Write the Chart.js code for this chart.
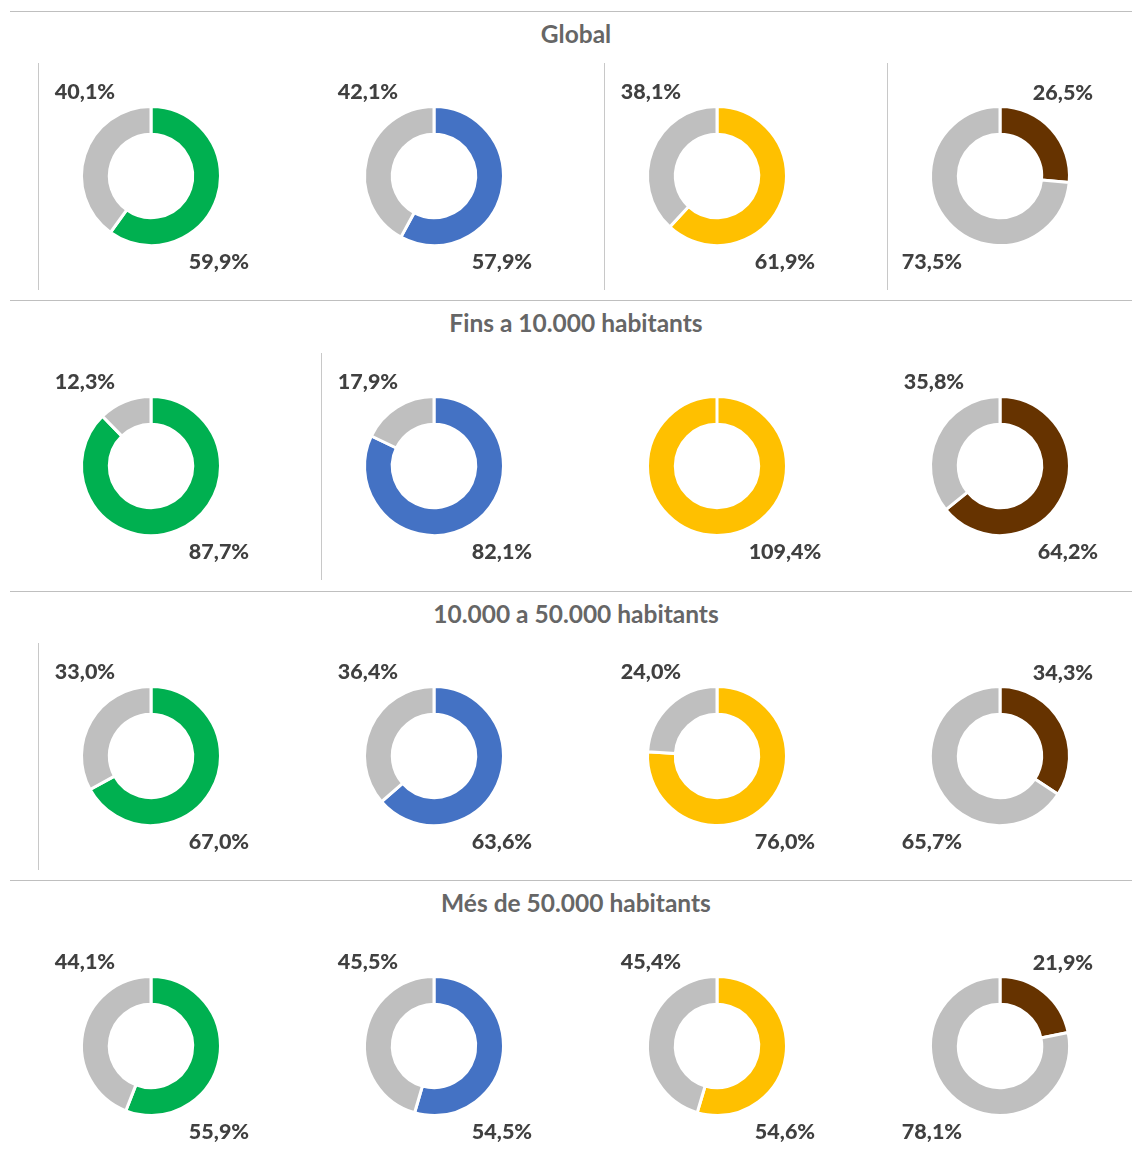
<!DOCTYPE html>
<html>
<head>
<meta charset="utf-8">
<script src="https://cdn.jsdelivr.net/npm/chart.js@4.4.1/dist/chart.umd.min.js"></script>
<style>
  html, body { margin: 0; padding: 0; background: #ffffff; }
  #page { position: relative; width: 1132px; height: 1162px; overflow: hidden; font-family: Lato, "Open Sans", sans-serif; }
  .hline { position: absolute; left: 10px; width: 1122px; height: 0; border-top: 1.5px solid #bfbfbf; }
  .vline { position: absolute; width: 0; border-left: 1px solid #c8c8c8; }
  .title { position: absolute; left: 0; width: 1152px; text-align: center; font-weight: 700; font-size: 24.5px; color: #666666; line-height: 28px; }
  .cell { position: absolute; width: 260px; height: 220px; }
</style>
</head>
<body>
<div id="page"></div>
<script>
// ---- data ----
const sectionTitles = ['Global', 'Fins a 10.000 habitants', '10.000 a 50.000 habitants', 'Més de 50.000 habitants'];
const colouredGlobal = [59.9, 57.9, 61.9, 26.5];
const greyGlobal     = [40.1, 42.1, 38.1, 73.5];
const colouredFins10 = [87.7, 82.1, 109.4, 64.2];
const greyFins10     = [12.3, 17.9, 0, 35.8];
const coloured10a50  = [67.0, 63.6, 76.0, 34.3];
const grey10a50      = [33.0, 36.4, 24.0, 65.7];
const colouredMes50  = [55.9, 54.5, 54.6, 21.9];
const greyMes50      = [44.1, 45.5, 45.4, 78.1];

const colouredRows = [colouredGlobal, colouredFins10, coloured10a50, colouredMes50];
const greyRows = [greyGlobal, greyFins10, grey10a50, greyMes50];
const seriesColours = ['#00B050', '#4472C4', '#FFC000', '#663300'];
const greyColour = '#BFBFBF';

// ---- layout ----
const colCentres = [151, 434, 717, 1000];
const rowCentres = [176, 466, 756, 1046];
const titleY = [34, 323, 614, 903];
const lineY = [11, 300, 591, 880];
const vlines = [[38, 63, 290], [604, 63, 290], [887, 63, 290], [321, 353, 580], [38, 643, 870]];

const page = document.getElementById('page');
lineY.forEach(y => {
  const d = document.createElement('div'); d.className = 'hline'; d.style.top = y + 'px'; page.appendChild(d);
});
vlines.forEach(v => {
  const d = document.createElement('div'); d.className = 'vline';
  d.style.left = v[0] + 'px'; d.style.top = v[1] + 'px'; d.style.height = (v[2] - v[1]) + 'px';
  page.appendChild(d);
});
sectionTitles.forEach((t, i) => {
  const d = document.createElement('div'); d.className = 'title'; d.textContent = t;
  d.style.top = (titleY[i] - 14) + 'px'; page.appendChild(d);
});

const fmt = v => v.toFixed(1).replace('.', ',') + '%';

const cornerLabels = {
  id: 'cornerLabels',
  afterDatasetsDraw(chart) {
    const meta = chart.getDatasetMeta(0);
    const ds = chart.data.datasets[0];
    const ctx = chart.ctx;
    ctx.save();
    ctx.font = '900 21.5px Lato, "Open Sans", sans-serif';
    ctx.fillStyle = '#404040';
    ctx.textAlign = 'center';
    ctx.textBaseline = 'middle';
    meta.data.forEach((arc, i) => {
      const v = ds.data[i];
      if (!v) return;
      const p = arc.getProps(['x', 'y', 'startAngle', 'endAngle'], true);
      // angle measured clockwise from 12 o'clock, in degrees
      let mid = ((p.startAngle + p.endAngle) / 2 + Math.PI / 2) * 180 / Math.PI;
      mid = ((mid % 360) + 360) % 360;
      let dx, dy;
      if (mid < 90) { dx = 63; dy = -83; }
      else if (mid <= 180) { dx = 68; dy = 86; }
      else if (mid < 270) { dx = -68; dy = 86; }
      else { dx = -66; dy = -84; }
      ctx.fillText(fmt(v), p.x + dx, p.y + dy);
    });
    ctx.restore();
  }
};

rowCentres.forEach((cy, r) => {
  colCentres.forEach((cx, c) => {
    const cell = document.createElement('div');
    cell.className = 'cell';
    cell.style.left = (cx - 130) + 'px';
    cell.style.top = (cy - 110) + 'px';
    const canvas = document.createElement('canvas');
    canvas.width = 260; canvas.height = 220;
    cell.appendChild(canvas);
    page.appendChild(cell);
    new Chart(canvas, {
      type: 'doughnut',
      data: {
        labels: ['valor', 'resta'],
        datasets: [{
          data: [colouredRows[r][c], greyRows[r][c]],
          backgroundColor: [seriesColours[c], greyColour],
          borderColor: '#ffffff',
          borderWidth: 3
        }]
      },
      options: {
        responsive: false,
        animation: false,
        radius: 69.5,
        cutout: '60%',
        layout: { padding: 0 },
        plugins: { legend: { display: false }, tooltip: { enabled: false } }
      },
      plugins: [cornerLabels]
    });
  });
});
</script>
</body>
</html>
